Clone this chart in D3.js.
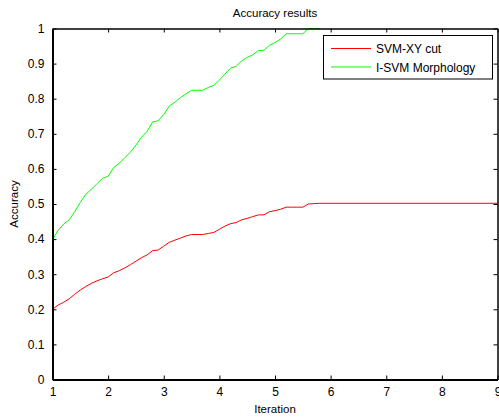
<!DOCTYPE html>
<html>
<head>
<meta charset="utf-8">
<script src="https://cdn.jsdelivr.net/npm/d3@7"></script>
<style>
  html, body { margin: 0; padding: 0; background: #fff; }
  svg { display: block; font-family: Arial, "Liberation Sans", sans-serif; }
</style>
</head>
<body>
<div id="chart"></div>
<script>
// Valeurs (pas de 0.1 itération)
const iterations = [
  1.0, 1.1, 1.2, 1.3, 1.4, 1.5, 1.6, 1.7, 1.8, 1.9,
  2.0, 2.1, 2.2, 2.3, 2.4, 2.5, 2.6, 2.7, 2.8, 2.9,
  3.0, 3.1, 3.2, 3.3, 3.4, 3.5, 3.6, 3.7, 3.8, 3.9,
  4.0, 4.1, 4.2, 4.3, 4.4, 4.5, 4.6, 4.7, 4.8, 4.9,
  5.0, 5.1, 5.2, 5.3, 5.4, 5.5, 5.6, 5.7, 5.8, 9.0,
]
const svmXY = [
  0.200, 0.212, 0.220, 0.230, 0.243, 0.255, 0.265, 0.274, 0.281, 0.287,
  0.292, 0.304, 0.310, 0.318, 0.327, 0.337, 0.347, 0.355, 0.367, 0.369,
  0.380, 0.391, 0.397, 0.403, 0.409, 0.413, 0.413, 0.413, 0.416, 0.419,
  0.428, 0.437, 0.444, 0.447, 0.455, 0.459, 0.464, 0.469, 0.469, 0.478,
  0.481, 0.485, 0.491, 0.491, 0.491, 0.491, 0.500, 0.501, 0.502, 0.502,
]
// la courbe verte atteint 1 vers 5.8 puis disparaît sous l'axe du haut
const isvmMorph = [
  0.398, 0.425, 0.443, 0.455, 0.478, 0.505, 0.528, 0.542, 0.558, 0.573,
  0.579, 0.604, 0.616, 0.632, 0.647, 0.668, 0.690, 0.707, 0.734, 0.737,
  0.755, 0.779, 0.790, 0.803, 0.814, 0.824, 0.824, 0.824, 0.832, 0.838,
  0.853, 0.870, 0.887, 0.892, 0.908, 0.918, 0.925, 0.937, 0.938, 0.952,
  0.960, 0.970, 0.985, 0.985, 0.985, 0.985, 1.000, 1.000, 1.000,
]
const seriesNames = ["SVM-XY cut", "I-SVM Morphology"]
const seriesColors = ["#ff0000", "#00ff00"]
const xTicks = [1, 2, 3, 4, 5, 6, 7, 8, 9]
const yTicks = [0, 0.1, 0.2, 0.3, 0.4, 0.5, 0.6, 0.7, 0.8, 0.9, 1]

const W = 499, H = 417
const margin = { top: 28.5, right: 1.5, bottom: 37.5, left: 52.5 }
const x0 = margin.left, x1 = W - margin.right
const y0 = H - margin.bottom, y1 = margin.top

const x = d3.scaleLinear().domain([1, 9]).range([x0, x1])
const y = d3.scaleLinear().domain([0, 1]).range([y0, y1])

const svg = d3.select("#chart").append("svg")
  .attr("width", W).attr("height", H)
  .attr("viewBox", `0 0 ${W} ${H}`)

svg.append("rect").attr("width", W).attr("height", H).attr("fill", "#fff")

// Courbes
const series = [
  iterations.map((it, i) => [it, svmXY[i]]),
  isvmMorph.map((v, i) => [iterations[i], v]),
]
const line = d3.line().x((d) => x(d[0])).y((d) => y(d[1]))

svg.append("g").selectAll("path")
  .data(series)
  .join("path")
  .attr("d", line)
  .attr("fill", "none")
  .attr("stroke", (_, i) => seriesColors[i])
  .attr("stroke-width", 1)

// Axes : boîte style MATLAB, graduations vers l'intérieur
const tickLen = 4
const axB = svg.append("g").attr("transform", `translate(0,${y0})`)
  .call(d3.axisBottom(x).tickValues(xTicks).tickFormat(d3.format("d")).tickSizeInner(-tickLen).tickSizeOuter(0).tickPadding(8))
const axT = svg.append("g").attr("transform", `translate(0,${y1})`)
  .call(d3.axisTop(x).tickValues(xTicks).tickFormat("").tickSizeInner(-tickLen).tickSizeOuter(0))
const axL = svg.append("g").attr("transform", `translate(${x0},0)`)
  .call(d3.axisLeft(y).tickValues(yTicks).tickFormat(d3.format("~g")).tickSizeInner(-tickLen).tickSizeOuter(0).tickPadding(8))
const axR = svg.append("g").attr("transform", `translate(${x1},0)`)
  .call(d3.axisRight(y).tickValues(yTicks).tickFormat("").tickSizeInner(-tickLen).tickSizeOuter(0))

for (const ax of [axB, axT, axL, axR]) {
  ax.select(".domain").attr("stroke", "#000").attr("stroke-width", 1.5)
  ax.selectAll(".tick line").attr("stroke", "#000")
  ax.selectAll("text").attr("fill", "#000").attr("font-size", 12)
    .attr("font-family", "Arial, 'Liberation Sans', sans-serif")
}
axL.select(".domain").attr("stroke-width", 2)
axB.select(".domain").attr("stroke-width", 2)

// Titres
svg.append("text")
  .attr("x", (x0 + x1) / 2).attr("y", 17)
  .attr("text-anchor", "middle").attr("font-size", 11.5)
  .text("Accuracy results")

svg.append("text")
  .attr("x", (x0 + x1) / 2).attr("y", 413)
  .attr("text-anchor", "middle").attr("font-size", 11.5)
  .text("Iteration")

svg.append("text")
  .attr("transform", `translate(18,${(y0 + y1) / 2}) rotate(-90)`)
  .attr("text-anchor", "middle").attr("font-size", 11.5)
  .text("Accuracy")

// Légende
const leg = svg.append("g").attr("transform", "translate(323,35)")
leg.append("rect")
  .attr("x", 0.5).attr("y", 0.5).attr("width", 169).attr("height", 43.5)
  .attr("fill", "#fff").attr("stroke", "#000").attr("stroke-width", 1)

const items = leg.selectAll("g.item")
  .data(seriesNames)
  .join("g")
  .attr("class", "item")
  .attr("transform", (_, i) => `translate(0,${13.5 + i * 18.5})`)
items.append("line")
  .attr("x1", 8).attr("x2", 48)
  .attr("stroke", (_, i) => seriesColors[i]).attr("stroke-width", 1)
items.append("text")
  .attr("x", 53).attr("y", 4.5)
  .attr("font-size", 12)
  .text((d) => d)
</script>
</body>
</html>
